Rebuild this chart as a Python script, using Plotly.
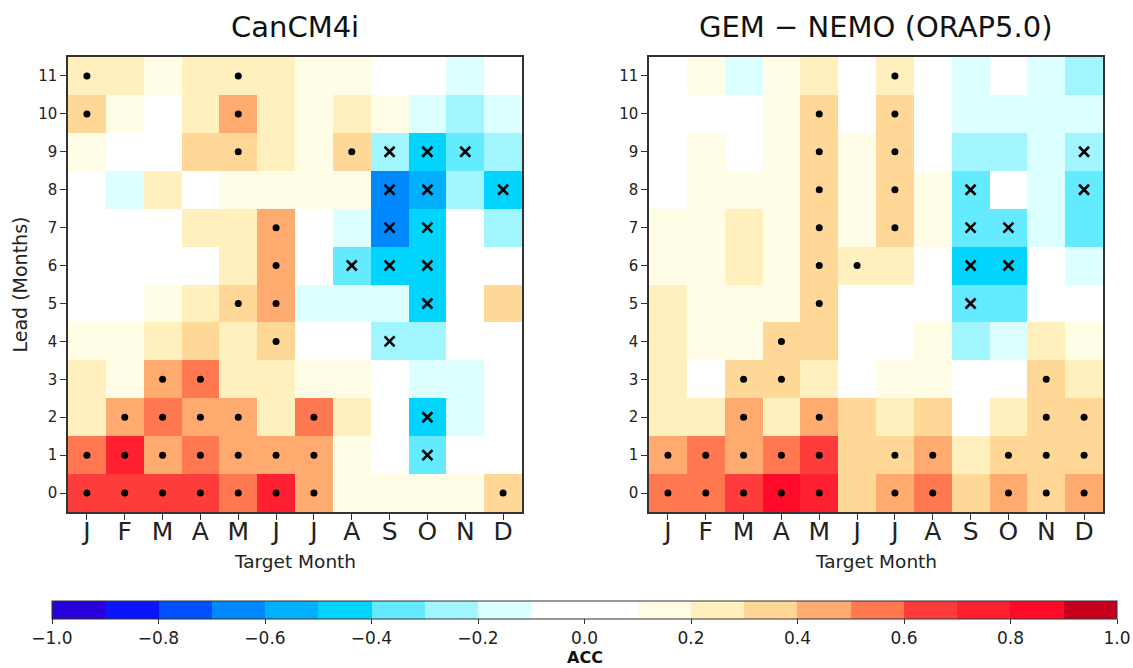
import plotly.graph_objects as go

# Target months (columns) and forecast lead times (rows)
months = ["J", "F", "M", "A", "M", "J", "J", "A", "S", "O", "N", "D"]
leads = list(range(12))

# Anomaly correlation coefficient, rows = lead 0..11, columns = Jan..Dec
acc_cancm4i = [
    [0.65, 0.65, 0.65, 0.65, 0.55, 0.75, 0.45, 0.15, 0.15, 0.15, 0.15, 0.35],
    [0.55, 0.75, 0.45, 0.55, 0.45, 0.45, 0.45, 0.15, 0.05, -0.35, 0.05, 0.05],
    [0.25, 0.45, 0.55, 0.45, 0.45, 0.25, 0.55, 0.25, 0.05, -0.45, -0.15, 0.05],
    [0.25, 0.15, 0.45, 0.55, 0.25, 0.25, 0.15, 0.15, 0.05, -0.15, -0.15, 0.05],
    [0.15, 0.15, 0.25, 0.35, 0.25, 0.35, 0.05, 0.05, -0.25, -0.25, 0.05, 0.05],
    [0.05, 0.05, 0.15, 0.25, 0.35, 0.45, -0.15, -0.15, -0.15, -0.45, 0.05, 0.35],
    [0.05, 0.05, 0.05, 0.05, 0.25, 0.45, 0.05, -0.35, -0.45, -0.45, 0.05, 0.05],
    [0.05, 0.05, 0.05, 0.25, 0.25, 0.45, 0.05, -0.15, -0.65, -0.45, 0.05, -0.25],
    [0.05, -0.15, 0.25, 0.05, 0.15, 0.15, 0.15, 0.15, -0.65, -0.55, -0.25, -0.45],
    [0.15, 0.05, 0.05, 0.35, 0.35, 0.25, 0.15, 0.35, -0.25, -0.45, -0.35, -0.25],
    [0.35, 0.15, 0.05, 0.25, 0.45, 0.25, 0.15, 0.25, 0.15, -0.15, -0.25, -0.15],
    [0.25, 0.25, 0.15, 0.25, 0.25, 0.25, 0.15, 0.15, 0.05, 0.05, -0.15, 0.05],
]

acc_gemnemo = [
    [0.55, 0.55, 0.65, 0.85, 0.75, 0.35, 0.45, 0.55, 0.35, 0.45, 0.35, 0.45],
    [0.45, 0.55, 0.45, 0.55, 0.65, 0.35, 0.35, 0.45, 0.25, 0.35, 0.35, 0.35],
    [0.25, 0.25, 0.45, 0.25, 0.45, 0.35, 0.25, 0.35, 0.05, 0.25, 0.35, 0.35],
    [0.25, 0.05, 0.35, 0.35, 0.25, 0.05, 0.15, 0.15, 0.05, 0.05, 0.35, 0.25],
    [0.25, 0.15, 0.15, 0.35, 0.35, 0.05, 0.05, 0.15, -0.25, -0.15, 0.25, 0.15],
    [0.25, 0.15, 0.15, 0.15, 0.35, 0.05, 0.05, 0.05, -0.35, -0.35, 0.05, 0.05],
    [0.15, 0.15, 0.25, 0.15, 0.35, 0.25, 0.25, 0.05, -0.45, -0.45, 0.05, -0.15],
    [0.15, 0.15, 0.25, 0.15, 0.35, 0.15, 0.35, 0.15, -0.35, -0.35, -0.15, -0.35],
    [0.05, 0.15, 0.15, 0.15, 0.35, 0.15, 0.35, 0.15, -0.35, 0.05, -0.15, -0.35],
    [0.05, 0.15, 0.05, 0.15, 0.35, 0.15, 0.35, 0.05, -0.25, -0.25, -0.15, -0.25],
    [0.05, 0.05, 0.05, 0.15, 0.35, 0.05, 0.35, 0.05, -0.15, -0.15, -0.15, -0.15],
    [0.05, 0.15, -0.15, 0.15, 0.25, 0.05, 0.25, 0.05, -0.15, 0.05, -0.15, -0.25],
]

# Significance: 1 = significant positive (dot), -1 = significant negative (cross)
sig_cancm4i = [
    [1, 1, 1, 1, 1, 1, 1, 0, 0, 0, 0, 1],
    [1, 1, 1, 1, 1, 1, 1, 0, 0, -1, 0, 0],
    [0, 1, 1, 1, 1, 0, 1, 0, 0, -1, 0, 0],
    [0, 0, 1, 1, 0, 0, 0, 0, 0, 0, 0, 0],
    [0, 0, 0, 0, 0, 1, 0, 0, -1, 0, 0, 0],
    [0, 0, 0, 0, 1, 1, 0, 0, 0, -1, 0, 0],
    [0, 0, 0, 0, 0, 1, 0, -1, -1, -1, 0, 0],
    [0, 0, 0, 0, 0, 1, 0, 0, -1, -1, 0, 0],
    [0, 0, 0, 0, 0, 0, 0, 0, -1, -1, 0, -1],
    [0, 0, 0, 0, 1, 0, 0, 1, -1, -1, -1, 0],
    [1, 0, 0, 0, 1, 0, 0, 0, 0, 0, 0, 0],
    [1, 0, 0, 0, 1, 0, 0, 0, 0, 0, 0, 0],
]

sig_gemnemo = [
    [1, 1, 1, 1, 1, 0, 1, 1, 0, 1, 1, 1],
    [1, 1, 1, 1, 1, 0, 1, 1, 0, 1, 1, 1],
    [0, 0, 1, 0, 1, 0, 0, 0, 0, 0, 1, 1],
    [0, 0, 1, 1, 0, 0, 0, 0, 0, 0, 1, 0],
    [0, 0, 0, 1, 0, 0, 0, 0, 0, 0, 0, 0],
    [0, 0, 0, 0, 1, 0, 0, 0, -1, 0, 0, 0],
    [0, 0, 0, 0, 1, 1, 0, 0, -1, -1, 0, 0],
    [0, 0, 0, 0, 1, 0, 1, 0, -1, -1, 0, 0],
    [0, 0, 0, 0, 1, 0, 1, 0, -1, 0, 0, -1],
    [0, 0, 0, 0, 1, 0, 1, 0, 0, 0, 0, -1],
    [0, 0, 0, 0, 1, 0, 1, 0, 0, 0, 0, 0],
    [0, 0, 0, 0, 0, 0, 1, 0, 0, 0, 0, 0],
]

panel_titles = ["CanCM4i", "GEM \u2212 NEMO (ORAP5.0)"]

# 20 discrete levels from -1 to 1 (step 0.1)
level_colors = [
    "#2800d8", "#0a14ff", "#0050ff", "#0088ff", "#00b0ff",
    "#00d4ff", "#64ebff", "#a0f5ff", "#dcffff", "#ffffff",
    "#ffffff", "#fffde6", "#fff0be", "#ffd796", "#ffaa6e",
    "#ff7850", "#ff3c3c", "#ff2032", "#ff0a28", "#c80020",
]
cbar_ticks = [-1.0, -0.8, -0.6, -0.4, -0.2, 0.0, 0.2, 0.4, 0.6, 0.8, 1.0]

W, H = 1133, 668


def px(x):
    return x / W


def py(y):
    return 1 - y / H


n = len(level_colors)
colorscale = []
for i, c in enumerate(level_colors):
    colorscale.append([i / n, c])
    colorscale.append([(i + 1) / n, c])

fig = go.Figure()

panels = [
    (acc_cancm4i, sig_cancm4i, "x", "y"),
    (acc_gemnemo, sig_gemnemo, "x2", "y2"),
]

for k, (acc, sig, xa, ya) in enumerate(panels):
    fig.add_trace(go.Heatmap(
        z=acc, x=list(range(12)), y=leads,
        colorscale=colorscale, zmin=-1, zmax=1,
        xaxis=xa, yaxis=ya, showscale=(k == 0), hoverinfo="skip",
        colorbar=dict(
            orientation="h", x=px(584.5), xanchor="center",
            y=py(601), yanchor="top", len=1065 / W, lenmode="fraction",
            thickness=18, xpad=0, ypad=0,
            outlinewidth=1, outlinecolor="#333",
            tickmode="array", tickvals=cbar_ticks,
            ticktext=[f"{v:.1f}".replace("-", "\u2212") for v in cbar_ticks],
            ticks="outside", ticklen=5, tickcolor="#333",
            tickfont=dict(size=17, color="#222"),
        ),
    ))
    dx, dy, cx, cy = [], [], [], []
    for r in range(12):
        for c in range(12):
            if sig[r][c] == 1:
                dx.append(c)
                dy.append(r)
            elif sig[r][c] == -1:
                cx.append(c)
                cy.append(r)
    fig.add_trace(go.Scatter(
        x=dx, y=dy, mode="markers", xaxis=xa, yaxis=ya, hoverinfo="skip",
        marker=dict(symbol="circle", size=7, color="black"), showlegend=False,
    ))
    fig.add_trace(go.Scatter(
        x=cx, y=cy, mode="markers", xaxis=xa, yaxis=ya, hoverinfo="skip",
        marker=dict(symbol="x-thin", size=10, color="black",
                    line=dict(width=2.6, color="black")),
        showlegend=False,
    ))

axis_common = dict(
    showline=True, linecolor="#333", linewidth=1.5, mirror=True,
    ticks="outside", ticklen=6, tickcolor="#333", showgrid=False,
    zeroline=False, range=[-0.5, 11.5],
)

xdomains = [[px(68), px(522)], [px(649), px(1103)]]
ydomain = [py(512), py(57)]

layout_axes = {}
for k, (xa, ya) in enumerate([("xaxis", "yaxis"), ("xaxis2", "yaxis2")]):
    layout_axes[xa] = dict(
        axis_common, domain=xdomains[k], anchor="y" if k == 0 else "y2",
        tickmode="array", tickvals=list(range(12)), ticktext=months,
        tickfont=dict(size=25, color="#222"), ticklabelstandoff=-10,
    )
    layout_axes[ya] = dict(
        axis_common, domain=ydomain, anchor="x" if k == 0 else "x2",
        tickmode="array", tickvals=leads, ticktext=[str(v) for v in leads],
        tickfont=dict(size=15, color="#222"),
    )

annotations = []
for k, title in enumerate(panel_titles):
    xc = 295 if k == 0 else 876
    annotations.append(dict(
        text=title, x=px(xc), y=py(27), xref="paper", yref="paper",
        showarrow=False, font=dict(size=29, color="#111"),
        xanchor="center", yanchor="middle",
    ))
    annotations.append(dict(
        text="Target Month", x=px(xc), y=py(561), xref="paper", yref="paper",
        showarrow=False, font=dict(size=18.5, color="#222"),
        xanchor="center", yanchor="middle",
    ))
annotations.append(dict(
    text="Lead (Months)", x=px(19), y=py(284.5), xref="paper", yref="paper",
    showarrow=False, textangle=-90, font=dict(size=19, color="#222"),
    xanchor="center", yanchor="middle",
))
annotations.append(dict(
    text="<b>ACC</b>", x=px(584.5), y=py(657), xref="paper", yref="paper",
    showarrow=False, font=dict(size=16, color="#111"),
    xanchor="center", yanchor="middle",
))

fig.update_layout(
    width=W, height=H, margin=dict(l=0, r=0, t=0, b=0),
    paper_bgcolor="white", plot_bgcolor="white",
    font=dict(family="DejaVu Sans"),
    showlegend=False, annotations=annotations,
    **layout_axes,
)

fig.write_html("out.html")
